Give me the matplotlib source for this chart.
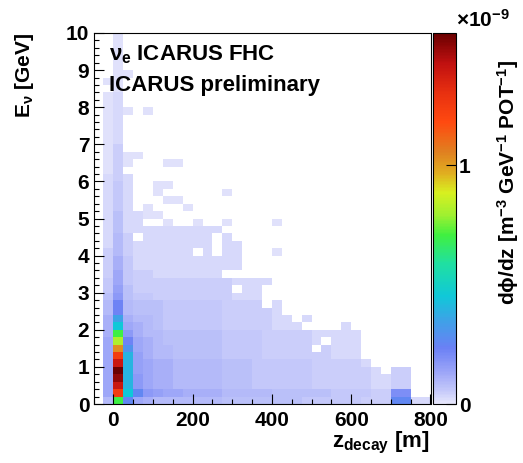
import numpy as np
import matplotlib
matplotlib.use("Agg")
import matplotlib.pyplot as plt
from matplotlib.colors import LinearSegmentedColormap
from matplotlib.ticker import MultipleLocator

plt.rcParams["font.family"] = ["Liberation Sans", "DejaVu Sans"]
plt.rcParams["font.weight"] = "bold"
plt.rcParams["mathtext.fontset"] = "custom"
plt.rcParams["mathtext.rm"] = "Liberation Sans:bold"
plt.rcParams["mathtext.it"] = "Liberation Sans:bold"
plt.rcParams["mathtext.bf"] = "Liberation Sans:bold"
plt.rcParams["mathtext.sf"] = "Liberation Sans:bold"

# binning: decay position along the beam [m] and neutrino energy [GeV]
z_edges = np.linspace(-50, 800, 35)
e_edges = np.linspace(0, 10, 51)

# flux level codes, in units of 1e-11 m^-3 GeV^-1 POT^-1 ('.' = empty bin)
LEVELS = {
    "1": 1.5, "2": 3, "3": 4.5, "4": 6, "5": 7.5, "6": 9, "7": 11, "8": 13,
    "9": 15, "A": 17, "B": 20, "C": 23, "D": 26, "E": 30, "F": 35, "G": 40,
    "H": 45, "I": 55, "J": 70, "K": 82, "L": 103, "M": 125, "N": 140,
    "O": 150, "P": 155,
}

# one string per energy bin, highest energy first; one char per z bin
flux_rows = [
    "..1....... .......... .......... ....",  # 9.8-10.0
    "..1....... .......... .......... ....",
    "..1....... .......... .......... ....",
    "..1....... .......... .......... ....",
    "..1....... .......... .......... ....",  # 9.0
    "..11...... .......... .......... ....",
    ".11....... .......... .......... ....",
    "..1....... .......... .......... ....",
    ".12....... .......... .......... ....",
    ".12....... .......... .......... ....",  # 8.0
    ".121.1.... .......... .......... ....",
    ".12....... .......... .......... ....",
    ".12....... .......... .......... ....",
    ".12....... .......... .......... ....",
    ".12....... .......... .......... ....",  # 7.0
    ".13....... .......... .......... ....",
    ".1311..... .......... .......... ....",
    ".131...11. .......... .......... ....",
    ".13....... .......... .......... ....",
    ".232...... .......... .......... ....",  # 6.0
    ".242..11.. .......... .......... ....",
    ".242..1... ...1...... .......... ....",
    ".242...11. .......... .......... ....",
    ".242.1...1 .......... .......... ....",
    ".252211... .......... .......... ....",  # 5.0
    ".2522..1.. 1..1....1. .......... ....",
    ".252222222 222....... .......... ....",
    ".263.22222 22.2...... .......... ....",
    ".263222222 22.22..... .......... ....",
    ".363222222 .2.22...1. .......... ....",  # 4.0
    ".374222222 22222..... .......... ....",
    ".374222222 22222..... .......... ....",
    ".384332222 222....... .......... ....",
    ".484333333 33332222.. .......... ....",
    ".495333333 3333.22... .......... ....",  # 3.0
    ".5A5443333 3333222... .......... ....",
    ".6C6555444 4443333.2. .......... ....",
    ".6C6555444 444333332. .......... ....",
    ".7F7665444 4443333322 .2........ ....",
    ".7H8765444 4443333322 2....2.... ....",  # 2.0
    ".7JA766555 5554444333 3322222... ....",
    ".8KC876555 5554444333 332.222... ....",
    ".8LE876655 5554444333 33.3222... ....",
    ".8MG976655 5554444333 3333222... ....",
    ".8NG987766 6665554444 44333332.. ....",  # 1.0
    ".8PG987766 6665554444 443333332. 33..",
    ".8OGA87766 6665554444 4433333322 33..",
    ".8NGA87766 6665554444 4433333322 33..",
    ".8MHDA9887 7776666655 5555444433 BB..",
    ".6JD876666 6665555555 5444444333 DD22",  # 0.0-0.2
]

flux = np.array([[LEVELS.get(ch, np.nan) for ch in row.replace(" ", "")]
                 for row in flux_rows[::-1]]) * 1e-11
flux = np.ma.masked_invalid(flux)

# lavender -> blue -> cyan -> green -> yellow -> orange -> red palette
palette = LinearSegmentedColormap.from_list("flux", [
    (0.00, "#e8e8fc"), (0.03, "#c8ccfa"), (0.08, "#a0a8f8"),
    (0.15, "#6a80f5"), (0.22, "#40a0e8"), (0.29, "#10c8d8"),
    (0.38, "#20e0a0"), (0.455, "#40f040"), (0.51, "#a0f030"),
    (0.57, "#d8f020"), (0.62, "#e0b020"), (0.68, "#e08020"),
    (0.76, "#ff4a10"), (0.84, "#e83010"), (0.92, "#c01010"),
    (1.00, "#6a0000"),
])
vmax = 1.555e-9

fig = plt.figure(figsize=(5.23, 4.63), dpi=100)
ax = fig.add_axes([93.5 / 523, 59 / 463, 337 / 523, 371 / 463])
mesh = ax.pcolormesh(z_edges, e_edges, flux, cmap=palette, vmin=0, vmax=vmax)

ax.set_xlim(-50, 800)
ax.set_ylim(0, 10)
ax.xaxis.set_major_locator(MultipleLocator(200))
ax.xaxis.set_minor_locator(MultipleLocator(50))
ax.yaxis.set_major_locator(MultipleLocator(1))
ax.yaxis.set_minor_locator(MultipleLocator(0.2))
ax.tick_params(which="both", direction="in", top=False, right=False,
               labelsize=15, width=0.8)
ax.tick_params(which="major", length=7)
ax.tick_params(which="minor", length=3.5)
ax.tick_params(axis="x", pad=5)
ax.tick_params(axis="y", pad=3)
for sp in ax.spines.values():
    sp.set_linewidth(0.8)

ax.text(0.045, 0.925, r"$\nu_{e}$ ICARUS FHC", transform=ax.transAxes,
        fontsize=16, fontweight="bold", va="baseline")
ax.text(0.045, 0.845, "ICARUS preliminary", transform=ax.transAxes,
        fontsize=16, fontweight="bold", va="baseline")

fig.text(25 / 523, 1 - 33 / 463, r"E$_{\nu}$ [GeV]", rotation=90,
         ha="center", va="top", fontsize=15, fontweight="bold")
fig.text(430 / 523, 1 - 447 / 463, r"z$_{decay}$ [m]", ha="right",
         va="baseline", fontsize=16, fontweight="bold")

cax = fig.add_axes([433 / 523, 59 / 463, 23 / 523, 371 / 463])
cb = fig.colorbar(mesh, cax=cax)
cb.set_ticks([0, 1e-9])
cb.set_ticklabels(["0", "1"])
cb.ax.tick_params(direction="in", length=7, width=0.8, labelsize=15, pad=2)
cb.outline.set_linewidth(0.8)
fig.text(456 / 523, 1 - 27 / 463, r"$\times$10$^{-9}$", fontsize=15,
         fontweight="bold", va="baseline")
fig.text(508 / 523, 1 - 305 / 463,
         r"d$\phi$/dz [m$^{-3}$ GeV$^{-1}$ POT$^{-1}$]", rotation=90,
         ha="center", va="bottom", fontsize=15, fontweight="bold")

fig.savefig("out.png", dpi=100)
